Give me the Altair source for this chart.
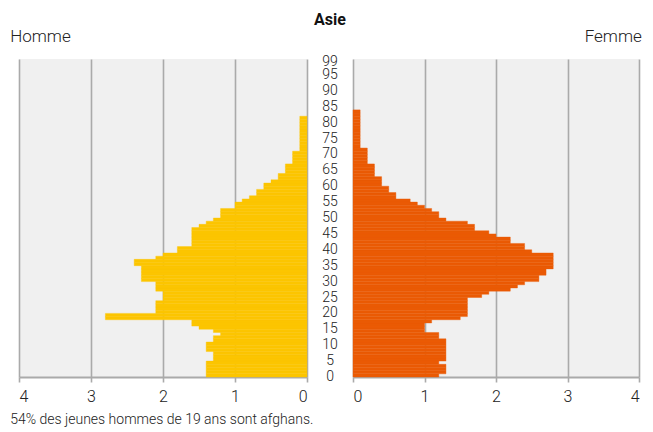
import altair as alt
import pandas as pd

ages = list(range(100))

homme = [
    1.4, 1.4, 1.4, 1.4, 1.4, 1.3, 1.3, 1.3, 1.4, 1.4,
    1.4, 1.3, 1.3, 1.2, 1.3, 1.5, 1.6, 1.6, 2.8, 2.8,
    2.1, 2.1, 2.1, 2.1, 2.0, 2.0, 2.0, 2.1, 2.1, 2.1,
    2.3, 2.3, 2.3, 2.3, 2.3, 2.4, 2.4, 2.1, 2.0, 1.8,
    1.8, 1.6, 1.6, 1.6, 1.6, 1.6, 1.6, 1.5, 1.4, 1.3,
    1.2, 1.2, 1.2, 1.0, 1.0, 0.9, 0.8, 0.7, 0.7, 0.6,
    0.6, 0.5, 0.4, 0.4, 0.3, 0.3, 0.3, 0.2, 0.2, 0.2,
    0.2, 0.1, 0.1, 0.1, 0.1, 0.1, 0.1, 0.1, 0.1, 0.1,
    0.1, 0.1, 0.0, 0.0, 0.0, 0.0, 0.0, 0.0, 0.0, 0.0,
    0.0, 0.0, 0.0, 0.0, 0.0, 0.0, 0.0, 0.0, 0.0, 0.0,
]

femme = [
    1.2, 1.3, 1.3, 1.3, 1.2, 1.3, 1.3, 1.3, 1.3, 1.3,
    1.3, 1.3, 1.2, 1.2, 1.0, 1.0, 1.0, 1.1, 1.5, 1.6,
    1.6, 1.6, 1.6, 1.6, 1.6, 1.8, 1.9, 2.2, 2.3, 2.4,
    2.6, 2.6, 2.7, 2.7, 2.8, 2.8, 2.8, 2.8, 2.8, 2.5,
    2.4, 2.4, 2.2, 2.2, 2.0, 1.9, 1.7, 1.7, 1.6, 1.3,
    1.2, 1.2, 1.1, 1.0, 0.9, 0.8, 0.6, 0.6, 0.5, 0.5,
    0.4, 0.4, 0.4, 0.3, 0.3, 0.3, 0.3, 0.2, 0.2, 0.2,
    0.2, 0.2, 0.1, 0.1, 0.1, 0.1, 0.1, 0.1, 0.1, 0.1,
    0.1, 0.1, 0.1, 0.1, 0.0, 0.0, 0.0, 0.0, 0.0, 0.0,
    0.0, 0.0, 0.0, 0.0, 0.0, 0.0, 0.0, 0.0, 0.0, 0.0,
]

age_ticks = [0, 5, 10, 15, 20, 25, 30, 35, 40, 45, 50, 55, 60, 65, 70, 75, 80, 85, 90, 95, 99]
x_ticks = [0, 1, 2, 3, 4]

title_main = "Asie"
label_left = "Homme"
label_right = "Femme"
caption = "54% des jeunes hommes de 19 ans sont afghans."

COL_H = "#FCC500"
COL_F = "#EA5A04"
FONT = "Roboto"
TXT = "#222222"
GRID = "#aaaaaa"


def frame(values):
    d = pd.DataFrame({"age": ages, "val": values})
    d["age_end"] = d["age"] + 1
    return d[d["val"] > 0]


df_h = frame(homme)
df_f = frame(femme)
df_lab = pd.DataFrame({"age": age_ticks, "label": [str(a) for a in age_ticks]})

yscale = alt.Scale(domain=[0, 100], nice=False, zero=False)


def xaxis():
    return alt.Axis(
        values=x_ticks, format="d", grid=True, gridColor=GRID, gridWidth=1.6,
        domainColor=GRID, domainWidth=2, tickColor=GRID, tickWidth=1.6, tickSize=5,
        labelFontSize=16, labelFont=FONT, labelFontWeight=300, labelColor=TXT,
        labelPadding=6, title=None,
    )


bg = alt.ViewBackground(fill="#f0f0f0", stroke=None)

left = alt.Chart(df_h).mark_rect(color=COL_H, stroke=COL_H, strokeWidth=0.4).encode(
    x=alt.X("val:Q", scale=alt.Scale(domain=[0, 4], reverse=True, nice=False), axis=xaxis()),
    x2=alt.datum(0),
    y=alt.Y("age:Q", scale=yscale, axis=None),
    y2="age_end:Q",
).properties(
    width=288, height=318, view=bg,
    title=alt.TitleParams(label_left, anchor="start", dx=-8, fontSize=17, font=FONT,
                          fontWeight=300, color=TXT, offset=13),
)

center = alt.Chart(df_lab).mark_text(
    fontSize=14, font=FONT, fontWeight=300, color=TXT, baseline="middle", align="center"
).encode(
    y=alt.Y("age:Q", scale=yscale, axis=None),
    x=alt.value(22),
    text="label:N",
).properties(
    width=44, height=318,
    title=alt.TitleParams(title_main, anchor="middle", fontSize=16, font=FONT,
                          fontWeight="bold", color="#111", offset=27),
)

right = alt.Chart(df_f).mark_rect(color=COL_F, stroke=COL_F, strokeWidth=0.4).encode(
    x=alt.X("val:Q", scale=alt.Scale(domain=[0, 4], nice=False), axis=xaxis()),
    x2=alt.datum(0),
    y=alt.Y("age:Q", scale=yscale, axis=None),
    y2="age_end:Q",
).properties(
    width=286, height=318, view=bg,
    title=alt.TitleParams(label_right, anchor="end", dx=2, fontSize=17, font=FONT,
                          fontWeight=300, color=TXT, offset=13),
)

chart = alt.hconcat(left, center, right, spacing=0).properties(
    padding={"left": 2, "top": 4, "right": 0, "bottom": 0},
    title=alt.TitleParams(caption, orient="bottom", anchor="start", fontSize=14, font=FONT,
                          fontWeight=300, color=TXT, offset=9),
).configure_view(stroke=None)

chart.save("out.html", embed_options={"renderer": "svg", "actions": False})
